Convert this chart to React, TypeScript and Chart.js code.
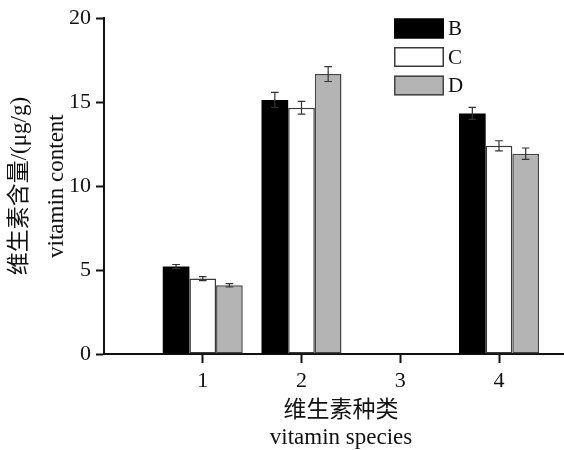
import React, { useEffect, useRef } from "react";
import { Chart, registerables } from "chart.js";

Chart.register(...registerables);

// ---- data ----
const categories = [1, 2, 3, 4];
const xTickLabels = ["1", "2", "3", "4"];
const seriesNames = ["B", "C", "D"];
const valuesB = [5.21, 15.13, null, 14.33];
const valuesC = [4.49, 14.67, null, 12.4];
const valuesD = [4.09, 16.67, null, 11.93];
const errorsB = [0.12, 0.45, null, 0.36];
const errorsC = [0.12, 0.38, null, 0.3];
const errorsD = [0.1, 0.44, null, 0.34];
const yTicks = [0, 5, 10, 15, 20];
const yTitle = ["维生素含量/(μg/g)", "vitamin content"];
const xTitle = ["维生素种类", "vitamin species"];

// ---- styles ----
const FONT = '"Liberation Serif", "Noto Sans CJK SC", serif';
const TEXT = "#111";
const fills = ["#000000", "#ffffff", "#b4b4b4"];
const borders = ["#000000", "#3a3a3a", "#444444"];

const seriesValues = [valuesB, valuesC, valuesD];
const seriesErrors = [errorsB, errorsC, errorsD];

const errorBarPlugin = {
  id: "errorBars",
  afterDatasetsDraw(chart: any) {
    const ctx = chart.ctx;
    const yScale = chart.scales.y;
    ctx.save();
    ctx.strokeStyle = "#333";
    ctx.lineWidth = 1.2;
    chart.data.datasets.forEach((ds: any, i: number) => {
      const meta = chart.getDatasetMeta(i);
      const errs = seriesErrors[i];
      const vals = seriesValues[i];
      meta.data.forEach((el: any, j: number) => {
        const v = vals[j];
        const e = errs[j];
        if (v == null || e == null) return;
        const x = el.x;
        const yTop = yScale.getPixelForValue(v + e);
        const yBot = yScale.getPixelForValue(v - e);
        const cap = 3.8;
        ctx.beginPath();
        ctx.moveTo(x, yTop);
        ctx.lineTo(x, yBot);
        ctx.moveTo(x - cap, yTop);
        ctx.lineTo(x + cap, yTop);
        ctx.moveTo(x - cap, yBot);
        ctx.lineTo(x + cap, yBot);
        ctx.stroke();
      });
    });
    ctx.restore();
  },
};

const legendPlugin = {
  id: "boxLegend",
  afterDraw(chart: any) {
    const ctx = chart.ctx;
    ctx.save();
    const x0 = 394;
    const y0 = 18.5;
    const w = 50;
    const h = 20;
    const gap = 28.5;
    chart.data.datasets.forEach((ds: any, i: number) => {
      const y = y0 + i * gap;
      ctx.fillStyle = ds.backgroundColor;
      ctx.fillRect(x0, y, w, h);
      ctx.strokeStyle = ds.borderColor;
      ctx.lineWidth = 1.5;
      ctx.strokeRect(x0 + 0.75, y + 0.75, w - 1.5, h - 1.5);
      ctx.fillStyle = TEXT;
      ctx.font = `21px ${FONT}`;
      ctx.textBaseline = "middle";
      ctx.textAlign = "left";
      ctx.fillText(ds.label, x0 + w + 4, y + h / 2 + 1);
    });
    ctx.restore();
  },
};

export default function App() {
  const ref = useRef<HTMLCanvasElement | null>(null);

  useEffect(() => {
    if (!ref.current) return;
    const datasets = seriesNames.map((name, i) => ({
      label: name,
      data: categories.map((c, k) => ({ x: c, y: seriesValues[i][k] })),
      backgroundColor: fills[i],
      borderColor: borders[i],
      borderWidth: i === 0 ? 0 : 1.5,
      borderSkipped: false,
      categoryPercentage: 0.81,
      barPercentage: 1.0,
    }));

    const chart = new Chart(ref.current, {
      type: "bar",
      data: { datasets } as any,
      plugins: [errorBarPlugin, legendPlugin],
      options: {
        animation: false,
        responsive: false,
        devicePixelRatio: 1,
        layout: { padding: { top: 18, right: 4, left: 0, bottom: 0 } },
        plugins: {
          legend: { display: false },
          tooltip: { enabled: false },
        },
        scales: {
          x: {
            type: "linear",
            min: 0,
            max: 4.8,
            offset: false,
            ticks: {
              stepSize: 1,
              includeBounds: false,
              autoSkip: false,
              maxRotation: 0,
              padding: 5,
              color: TEXT,
              font: { family: FONT, size: 22 },
              callback: (v: any) => {
                const idx = categories.indexOf(Number(v));
                return idx >= 0 ? xTickLabels[idx] : "";
              },
            },
            grid: {
              offset: false,
              drawOnChartArea: false,
              drawTicks: true,
              tickLength: 9,
              tickWidth: 2,
              tickColor: (c: any) => (c.tick && c.tick.value === 0 ? "rgba(0,0,0,0)" : "#111"),
            },
            border: { display: true, color: "#111", width: 2 },
            title: {
              display: true,
              text: xTitle,
              color: TEXT,
              font: { family: FONT, size: 23, lineHeight: 1.2 },
              padding: { top: 0, bottom: -2 },
            },
            afterFit: (s: any) => {
              s.height = 96;
            },
          } as any,
          y: {
            type: "linear",
            min: 0,
            max: 20,
            afterBuildTicks: (s: any) => {
              s.ticks = yTicks.map((v) => ({ value: v }));
            },
            ticks: {
              padding: 5,
              color: TEXT,
              font: { family: FONT, size: 22 },
            },
            grid: {
              drawOnChartArea: false,
              drawTicks: true,
              tickLength: 8,
              tickWidth: 2,
              tickColor: "#111",
            },
            border: { display: true, color: "#111", width: 2 },
            title: {
              display: true,
              text: yTitle,
              color: TEXT,
              font: { family: FONT, size: 23, lineHeight: 1.6 },
              padding: { top: 1.5, bottom: 0 },
            },
            afterFit: (s: any) => {
              s.width = 104;
            },
          } as any,
        },
      } as any,
    });
    return () => chart.destroy();
  }, []);

  return (
    <div style={{ position: "fixed", left: 0, top: 0, width: 582, height: 450, background: "#fff" }}>
      <canvas ref={ref} width={582} height={450} style={{ width: 582, height: 450, display: "block" }} />
    </div>
  );
}
